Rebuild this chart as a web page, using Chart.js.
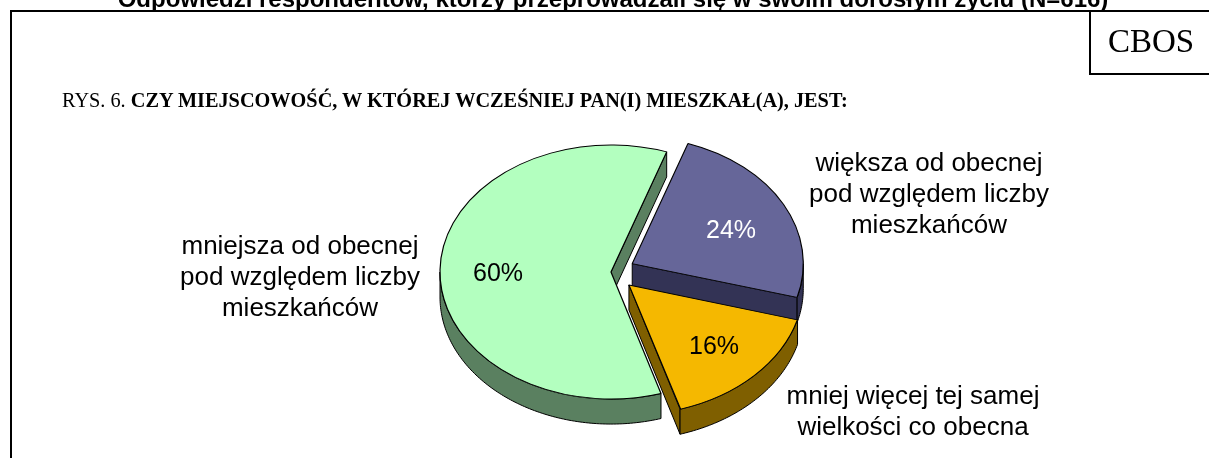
<!DOCTYPE html>
<html><head><meta charset="utf-8">
<script src="https://cdn.jsdelivr.net/npm/chart.js@4/dist/chart.umd.min.js"></script>
<style>
body{margin:0;background:#fff;width:1209px;height:458px;overflow:hidden;position:relative;font-family:"Liberation Sans",Arial,sans-serif;color:#000;}
#c{position:absolute;left:0;top:0;}
.line{position:absolute;background:#000;}
.topTitle{position:absolute;left:0;width:1226px;top:-13px;text-align:center;font-weight:bold;font-size:24px;line-height:24px;white-space:nowrap;}
.cbos{position:absolute;left:1089px;top:10px;width:120px;height:63px;border-left:2px solid #000;border-bottom:2px solid #000;font-family:"Liberation Serif","Times New Roman",serif;font-size:33px;line-height:63px;text-align:center;}
.rys{position:absolute;left:62px;top:89px;font-family:"Liberation Serif","Times New Roman",serif;font-size:20.3px;line-height:23px;white-space:nowrap;}
.lbl{position:absolute;font-size:26px;line-height:31px;text-align:center;white-space:nowrap;transform:translate(-50%,0);}
.pct{position:absolute;font-size:25px;line-height:25px;transform:translate(-50%,-50%);white-space:nowrap;}
</style></head>
<body>
<canvas id="c" width="1209" height="458"></canvas>
<div class="line" style="left:10px;top:10px;width:1199px;height:2px"></div>
<div class="line" style="left:10px;top:10px;width:2px;height:448px"></div>
<div class="topTitle">Odpowiedzi respondentów, którzy przeprowadzali się w swoim dorosłym życiu (N=616)</div>
<div class="cbos">CBOS</div>
<div class="rys">RYS. 6. <b>CZY MIEJSCOWOŚĆ, W KTÓREJ WCZEŚNIEJ PAN(I) MIESZKAŁ(A), JEST:</b></div>
<div id="labels"></div>
<script>
// ---- data ----
const categories = ['większa', 'mniej więcej tej samej', 'mniejsza'];
const values = [24, 16, 60];
const labelLines = [
  ['większa od obecnej', 'pod względem liczby', 'mieszkańców'],
  ['mniej więcej tej samej', 'wielkości co obecna'],
  ['mniejsza od obecnej', 'pod względem liczby', 'mieszkańców']
];
// ---- styles ----
const topColors = ['#666699', '#f5b800', '#b3ffbf'];
const sideColors = ['#333355', '#7f5f00', '#5a8060'];
const pctColors = ['#fff', '#000', '#000'];
const explode = [96, 100, 0];
const labelPos = [[929, 147], [913, 380], [300, 230]];
const pctPos = [[731, 229], [714, 345], [498, 272]];
const DEPTH = 25, K = 0.743;

const labelsDiv = document.getElementById('labels');
labelLines.forEach((lines, i) => {
  const d = document.createElement('div');
  d.className = 'lbl';
  d.style.left = labelPos[i][0] + 'px';
  d.style.top = labelPos[i][1] + 'px';
  d.innerHTML = lines.join('<br>');
  labelsDiv.appendChild(d);
  const p = document.createElement('div');
  p.className = 'pct';
  p.style.left = pctPos[i][0] + 'px';
  p.style.top = pctPos[i][1] + 'px';
  p.style.color = pctColors[i];
  p.textContent = values[i] + '%';
  labelsDiv.appendChild(p);
});

const pie3d = {
  id: 'pie3d',
  beforeDatasetsDraw(chart) {
    const ctx = chart.ctx;
    const meta = chart.getDatasetMeta(0);
    const C = meta.data[0].y;
    const sy = v => C + (v - C) * K;
    const geo = meta.data.map(arc => {
      const p = arc.getProps(['x','y','startAngle','endAngle','outerRadius'], true);
      const off = (arc.options.offset || 0) / 4;
      const half = (p.startAngle + p.endAngle) / 2;
      const cx = p.x + Math.cos(half) * off, cy = p.y + Math.sin(half) * off;
      const fix = 1 - Math.sin(Math.min(Math.PI, p.endAngle - p.startAngle));
      const R = p.outerRadius + off * fix;
      return {s: p.startAngle, e: p.endAngle, cx, cy, R};
    });
    ctx.save();
    ctx.lineWidth = 1;
    ctx.strokeStyle = '#000';
    ctx.lineJoin = 'round';
    const pt = (g, a) => [g.cx + g.R * Math.cos(a), sy(g.cy + g.R * Math.sin(a))];
    // radial faces
    geo.forEach((g, i) => {
      const c0 = [g.cx, sy(g.cy)];
      const faces = [];
      if (Math.cos(g.s) < 0) faces.push(g.s);
      if (Math.cos(g.e) > 0) faces.push(g.e);
      faces.forEach(a => {
        const p = pt(g, a);
        ctx.beginPath();
        ctx.moveTo(c0[0], c0[1]);
        ctx.lineTo(p[0], p[1]);
        ctx.lineTo(p[0], p[1] + DEPTH);
        ctx.lineTo(c0[0], c0[1] + DEPTH);
        ctx.closePath();
        ctx.fillStyle = sideColors[i];
        ctx.fill();
        ctx.stroke();
      });
    });
    // outer curved sides
    geo.forEach((g, i) => {
      const TAU = Math.PI * 2;
      for (let n = Math.floor(g.s / TAU) - 1; n <= Math.ceil(g.e / TAU); n++) {
        const lo = Math.max(g.s, TAU * n), hi = Math.min(g.e, TAU * n + Math.PI);
        if (hi - lo <= 1e-6) continue;
        const steps = Math.max(8, Math.ceil((hi - lo) * 60));
        ctx.beginPath();
        for (let k = 0; k <= steps; k++) {
          const a = lo + (hi - lo) * k / steps;
          const p = pt(g, a);
          if (k === 0) ctx.moveTo(p[0], p[1]); else ctx.lineTo(p[0], p[1]);
        }
        for (let k = steps; k >= 0; k--) {
          const a = lo + (hi - lo) * k / steps;
          const p = pt(g, a);
          ctx.lineTo(p[0], p[1] + DEPTH);
        }
        ctx.closePath();
        ctx.fillStyle = sideColors[i];
        ctx.fill();
        ctx.stroke();
      }
    });
    ctx.restore();
    ctx.save();
    ctx.translate(0, C);
    ctx.scale(1, K);
    ctx.translate(0, -C);
  },
  afterDatasetsDraw(chart) {
    chart.ctx.restore();
  }
};

new Chart(document.getElementById('c'), {
  type: 'pie',
  data: {
    labels: categories,
    datasets: [{
      data: values,
      backgroundColor: topColors,
      borderColor: '#000',
      borderWidth: 1.2,
      offset: explode,
      clip: false
    }]
  },
  options: {
    responsive: false,
    devicePixelRatio: 1,
    animation: false,
    rotation: 19,
    radius: 171,
    layout: {padding: {left: 13, right: 0, top: 86, bottom: 0}},
    plugins: {legend: {display: false}, tooltip: {enabled: false}}
  },
  plugins: [pie3d]
});
</script>
</body></html>
